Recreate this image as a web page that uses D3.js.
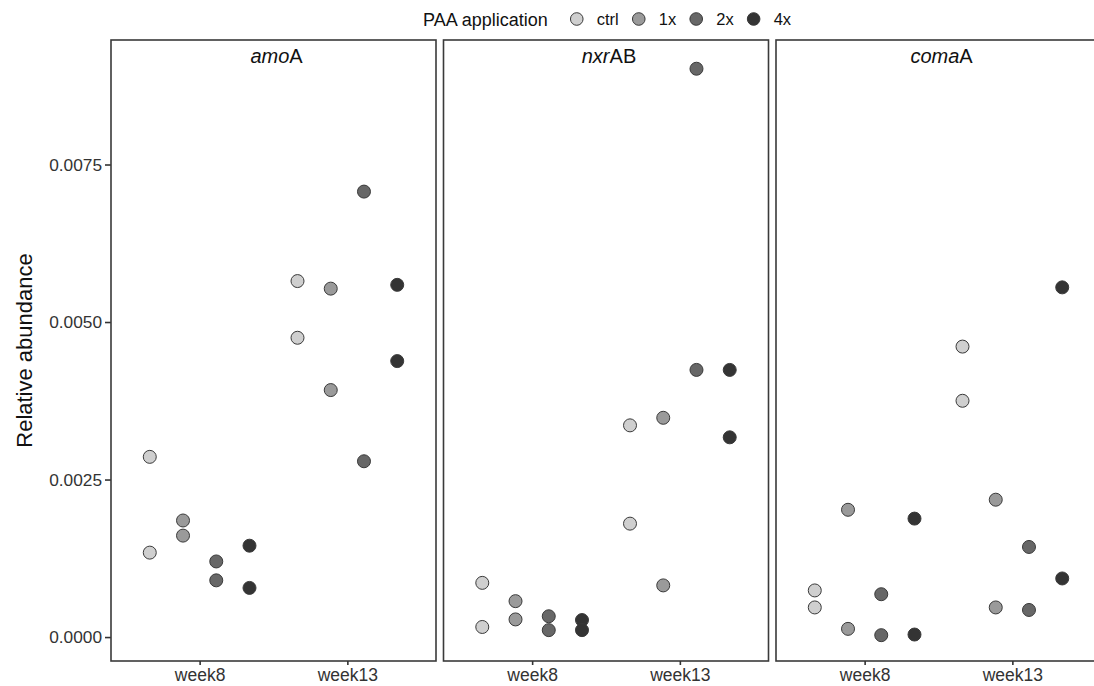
<!DOCTYPE html>
<html>
<head>
<meta charset="utf-8">
<script src="https://cdn.jsdelivr.net/npm/d3@7"></script>
<style>
  body { margin: 0; background: #fff; }
  svg { font-family: "Liberation Sans", Arial, sans-serif; }
</style>
</head>
<body>
<div id="chart"></div>
<script>
// categories
var genes = ["amoA", "nxrAB", "comaA"];
var geneItalic = ["amo", "nxr", "coma"];
var geneSuffix = ["A", "AB", "A"];
var weeks = ["week8", "week13"];
var treatments = ["ctrl", "1x", "2x", "4x"];
var treatmentFill = ["#cfcfcf", "#9a9a9a", "#676767", "#343434"];
var yTicks = [0, 0.0025, 0.005, 0.0075];

// values: [week][treatment] -> two replicates
var amoA = [
    [[0.00286, 0.00134], [0.00185, 0.00161], [0.00120, 0.00090], [0.00145, 0.00078]],
    [[0.00565, 0.00475], [0.00553, 0.00392], [0.00707, 0.00279], [0.00559, 0.00438]]
];
var nxrAB = [
    [[0.00086, 0.00016], [0.00057, 0.00028], [0.00033, 0.00011], [0.00027, 0.00011]],
    [[0.00336, 0.00180], [0.00348, 0.00082], [0.00902, 0.00424], [0.00424, 0.00317]]
];
var comaA = [
    [[0.00074, 0.00047], [0.00202, 0.00013], [0.00068, 0.00003], [0.00188, 0.00004]],
    [[0.00461, 0.00375], [0.00218, 0.00047], [0.00143, 0.00043], [0.00555, 0.00093]]
];
var geneValues = [amoA, nxrAB, comaA];

var width = 1094,
    height = 686;
var panelTop = 40, panelBottom = 661;
var panelLeft = 111, panelW = 325, panelGap = 7.5;

var svg = d3.select("#chart").append("svg")
    .attr("width", width)
    .attr("height", height);

var y = d3.scaleLinear()
    .domain([-0.00038, 0.009476])
    .range([panelBottom, panelTop]);

// discrete x like ggplot: positions 1..2 inside [0.4, 2.6]
var x = d3.scalePoint()
    .domain(weeks)
    .range([0.6 / 2.2 * panelW, 1.6 / 2.2 * panelW]);

// dodge width 0.9
var dodge = d3.scaleBand()
    .domain(treatments)
    .range([-0.45 * panelW / 2.2, 0.45 * panelW / 2.2]);

var fill = d3.scaleOrdinal().domain(treatments).range(treatmentFill);

// y axis
var yAxis = svg.append("g")
    .attr("transform", "translate(" + panelLeft + ",0)")
    .call(d3.axisLeft(y).tickValues(yTicks).tickSize(6).tickPadding(3)
        .tickFormat(d3.format(".4f")));
yAxis.select(".domain").remove();
yAxis.selectAll(".tick line").attr("stroke", "#333").attr("stroke-width", 1.6);
yAxis.selectAll("text").attr("font-size", 17.3).attr("fill", "#333")
    .attr("font-family", "Liberation Sans, Arial, sans-serif");

svg.append("text")
    .attr("transform", "translate(32," + ((panelTop + panelBottom) / 2) + ") rotate(-90)")
    .attr("text-anchor", "middle")
    .attr("font-size", 22)
    .attr("fill", "#111")
    .text("Relative abundance");

genes.forEach(function(g, gi) {
    var x0 = panelLeft + gi * (panelW + panelGap);
    var panel = svg.append("g").attr("transform", "translate(" + x0 + ",0)");

    // points
    var pts = [];
    weeks.forEach(function(w, wi) {
        treatments.forEach(function(t, ti) {
            geneValues[gi][wi][ti].forEach(function(v) {
                pts.push({ week: w, trt: t, value: v });
            });
        });
    });

    panel.selectAll("circle")
        .data(pts)
        .enter().append("circle")
        .attr("cx", function(d) { return x(d.week) + dodge(d.trt) + dodge.bandwidth() / 2; })
        .attr("cy", function(d) { return y(d.value); })
        .attr("r", 6.5)
        .attr("fill", function(d) { return fill(d.trt); })
        .attr("stroke", "#3a3a3a")
        .attr("stroke-width", 1);

    // frame
    panel.append("rect")
        .attr("x", 0).attr("y", panelTop)
        .attr("width", panelW).attr("height", panelBottom - panelTop)
        .attr("fill", "none")
        .attr("stroke", "#3a3a3a")
        .attr("stroke-width", 1.6);

    // x axis
    var xAxis = panel.append("g")
        .attr("transform", "translate(0," + panelBottom + ")")
        .call(d3.axisBottom(x).tickSize(4).tickPadding(4));
    xAxis.select(".domain").remove();
    xAxis.selectAll(".tick line").attr("stroke", "#333").attr("stroke-width", 1.6);
    xAxis.selectAll("text").attr("font-size", 17.5).attr("fill", "#333")
        .attr("font-family", "Liberation Sans, Arial, sans-serif");

    // strip label
    var lab = panel.append("text")
        .attr("x", panelW / 2 + 3)
        .attr("y", 63)
        .attr("text-anchor", "middle")
        .attr("font-size", 20)
        .attr("fill", "#111");
    lab.append("tspan").attr("font-style", "italic").text(geneItalic[gi]);
    lab.append("tspan").text(geneSuffix[gi]);
});

// legend
var legend = svg.append("g").attr("transform", "translate(0,19)");
var title = legend.append("text")
    .attr("x", 423).attr("y", 6.5)
    .attr("font-size", 18)
    .attr("fill", "#111")
    .text("PAA application");
var cx = 423 + title.node().getComputedTextLength() + 29;
treatments.forEach(function(t, i) {
    legend.append("circle")
        .attr("cx", cx).attr("cy", 0)
        .attr("r", 6.3)
        .attr("fill", fill(t))
        .attr("stroke", "#3a3a3a")
        .attr("stroke-width", 1);
    var tx = legend.append("text")
        .attr("x", cx + 20).attr("y", 6)
        .attr("font-size", 16.5)
        .attr("fill", "#111")
        .text(t);
    cx = cx + 20 + tx.node().getComputedTextLength() + 20;
});
</script>
</body>
</html>
